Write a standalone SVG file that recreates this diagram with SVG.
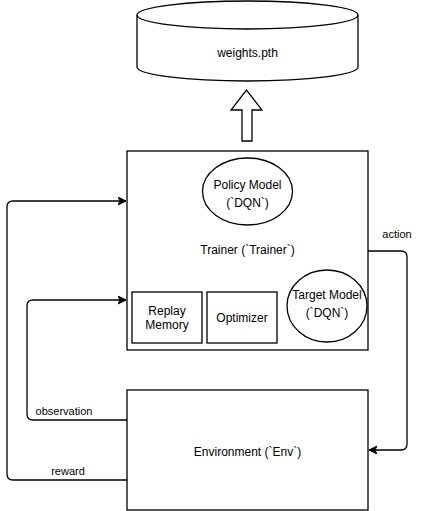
<svg xmlns="http://www.w3.org/2000/svg" width="428" height="511" viewBox="0 0 428 511">
<style>
.s{fill:#fff;stroke:#000;stroke-width:1.3}
.t{font-family:"Liberation Sans",Arial,sans-serif;font-size:12px;fill:#000;text-anchor:middle}
.l{font-family:"Liberation Sans",Arial,sans-serif;font-size:11px;fill:#000;text-anchor:middle}
.c{fill:none;stroke:#000;stroke-width:1.3}
</style>
<defs>
<marker id="ah" markerWidth="10" markerHeight="10" refX="8" refY="4" orient="auto" markerUnits="userSpaceOnUse">
<path d="M0,0 L8,4 L0,8 L2,4 Z" fill="#000" stroke="#000" stroke-width="1"/>
</marker>
</defs>
<rect width="428" height="511" fill="#fff"/>
<g id="weights">
<path class="s" d="M137,15 A110.5,14 0 0 1 358,15 L358,67 A110.5,14 0 0 1 137,67 Z"/>
<path class="c" d="M137,15 A110.5,14 0 0 0 358,15"/>
<text class="t" x="247.5" y="57">weights.pth</text>
</g>
<g id="save-arrow">
<path class="s" d="M242,141 L242,110 L231,110 L246.5,90 L262,110 L252,110 L252,141 Z"/>
</g>
<g id="trainer">
<rect class="s" x="127" y="151" width="241" height="199"/>
<text class="t" x="247.5" y="254">Trainer (`Trainer`)</text>
</g>
<g id="policy">
<ellipse class="s" cx="247.5" cy="191.5" rx="45" ry="33.5"/>
<text class="t" x="247.5" y="189">Policy Model</text>
<text class="t" x="247.5" y="207">(`DQN`)</text>
</g>
<g id="target">
<ellipse class="s" cx="327" cy="306" rx="40" ry="36"/>
<text class="t" x="327" y="299">Target Model</text>
<text class="t" x="327" y="317">(`DQN`)</text>
</g>
<g id="replay">
<rect class="s" x="132" y="292" width="70" height="51"/>
<text class="t" x="167" y="315">Replay</text>
<text class="t" x="167" y="329">Memory</text>
</g>
<g id="optimizer">
<rect class="s" x="207" y="292" width="70" height="51"/>
<text class="t" x="242" y="322">Optimizer</text>
</g>
<g id="env">
<rect class="s" x="127" y="390" width="241" height="120"/>
<text class="t" x="247.5" y="456">Environment (`Env`)</text>
</g>
<g id="connectors">
<path class="c" d="M368,251 L401,251 Q407,251 407,257 L407,444 Q407,450 401,450 L369,450" marker-end="url(#ah)"/>
<text class="l" x="397" y="238">action</text>
<path class="c" d="M127,420 L33,420 Q27,420 27,414 L27,306 Q27,300 33,300 L126,300" marker-end="url(#ah)"/>
<text class="l" x="64" y="415">observation</text>
<path class="c" d="M127,480 L13,480 Q7,480 7,474 L7,207 Q7,201 13,201 L126,201" marker-end="url(#ah)"/>
<text class="l" x="68" y="475">reward</text>
</g>
</svg>
